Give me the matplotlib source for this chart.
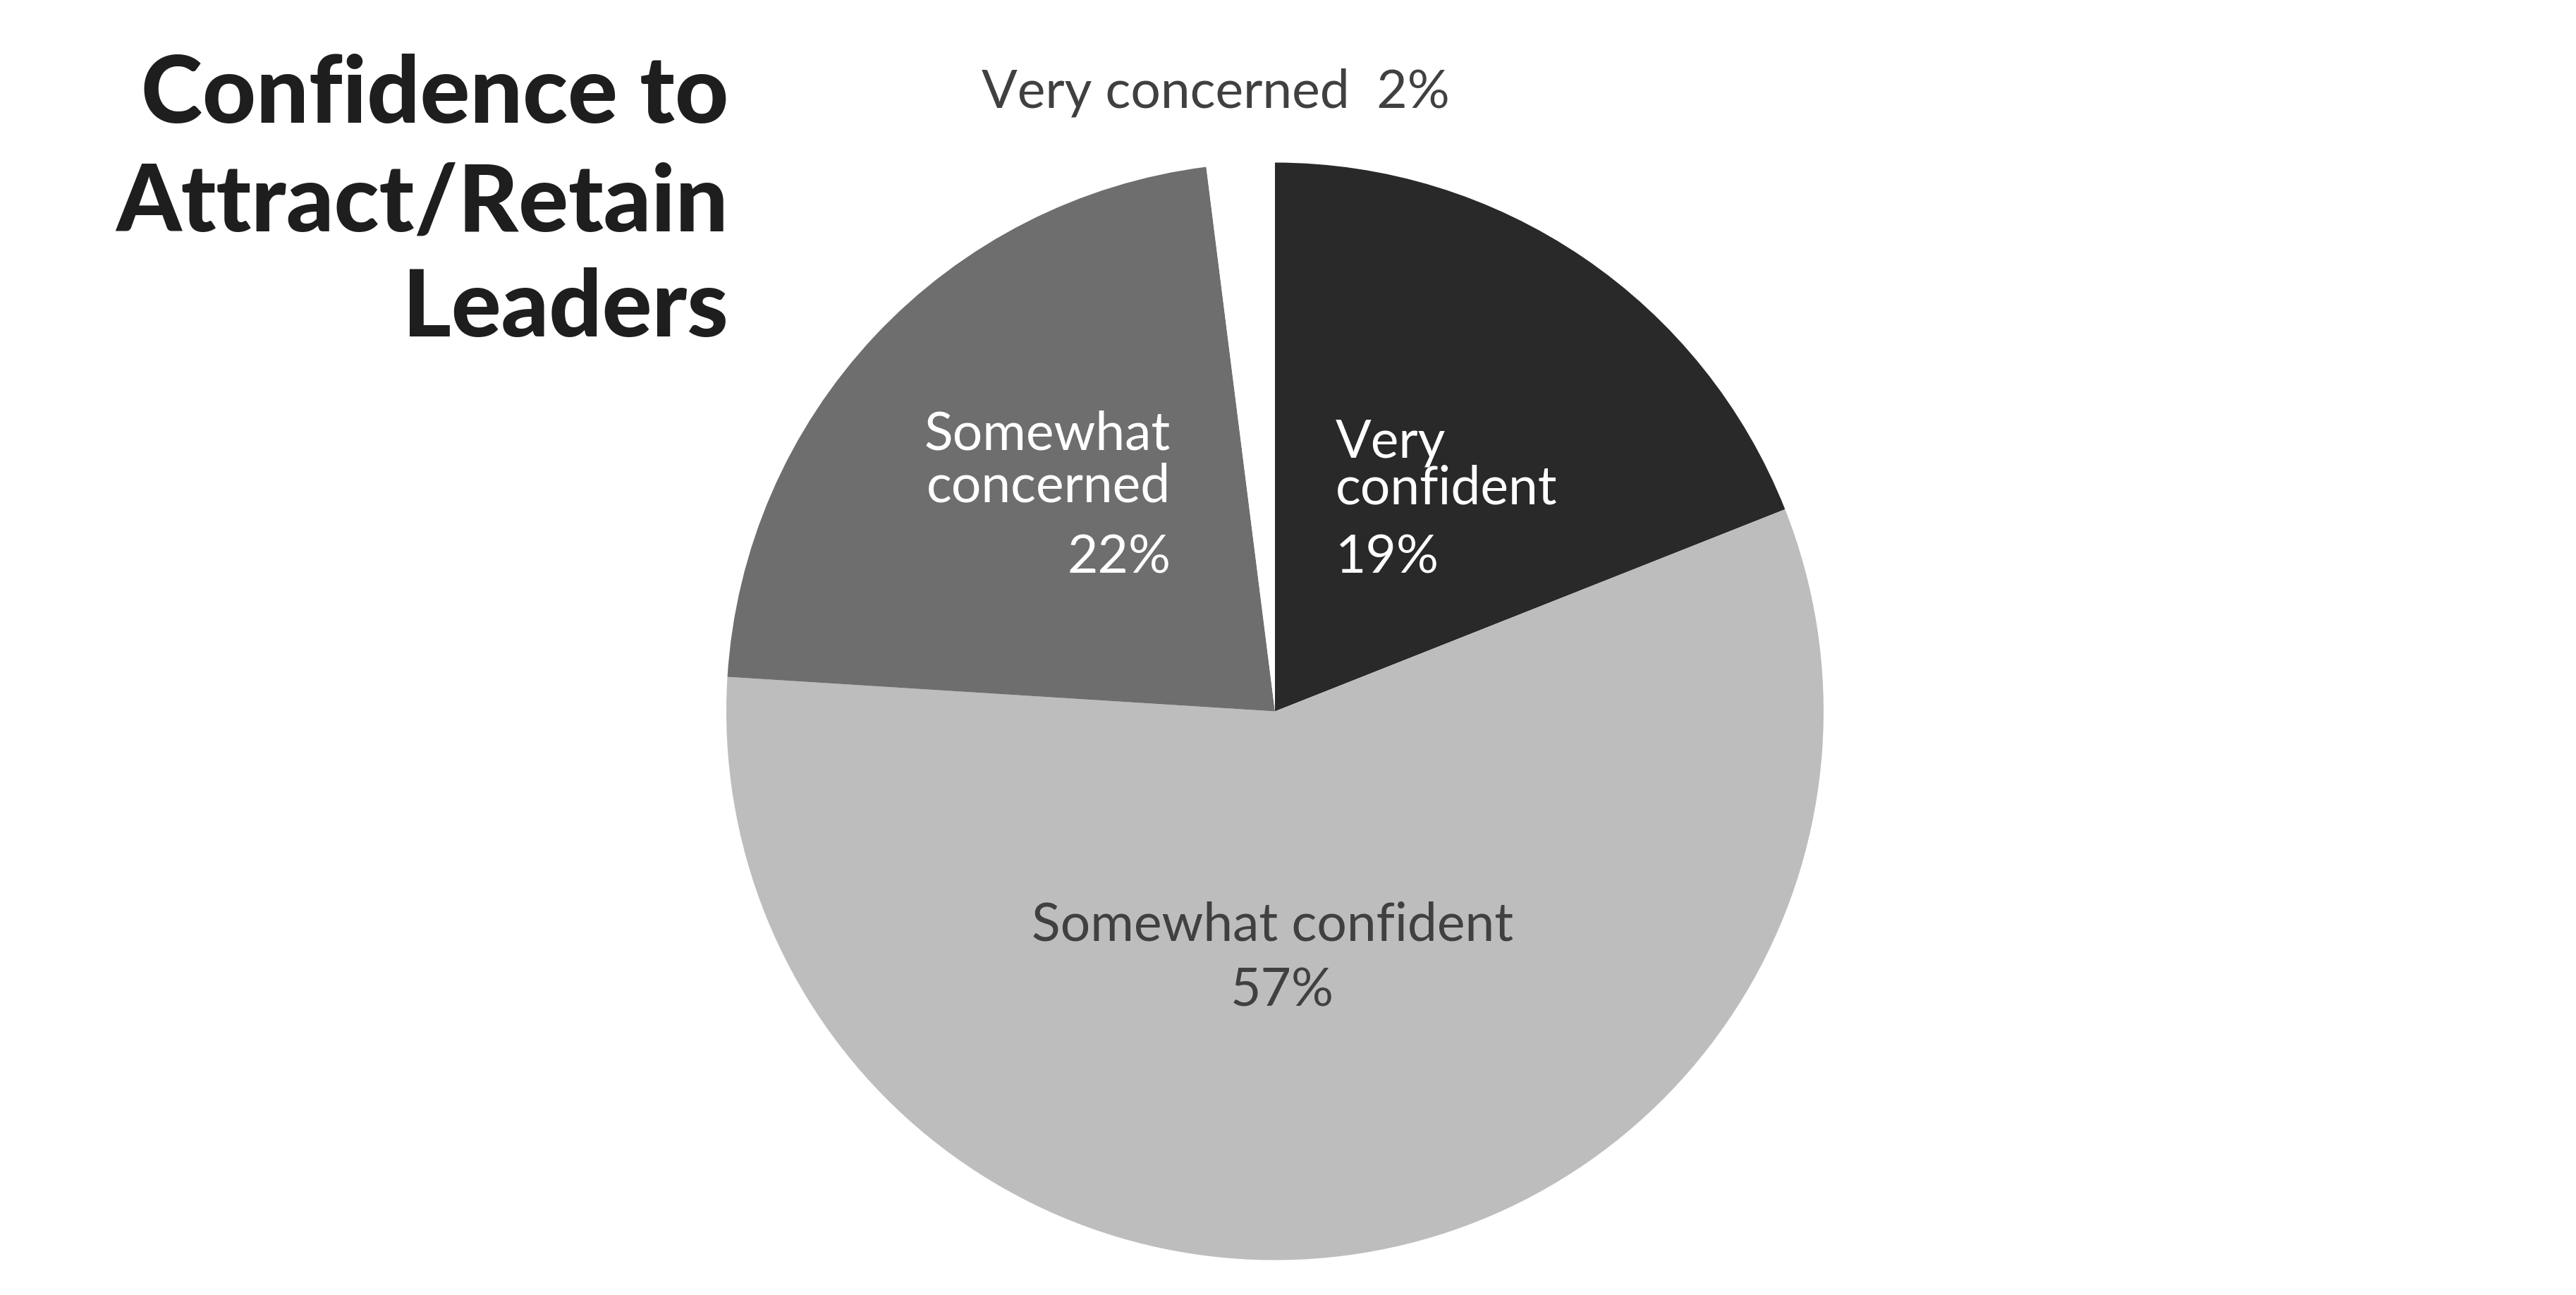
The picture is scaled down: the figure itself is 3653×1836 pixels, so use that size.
import matplotlib
matplotlib.use("Agg")
from matplotlib import pyplot as plt

# data
categories = ["Very confident", "Somewhat confident", "Somewhat concerned", "Very concerned"]
shares = [19, 57, 22, 2]
slice_colors = ["#292929", "#bdbdbd", "#6e6e6e", "#ffffff"]
title_lines = ["Confidence to", "Attract/Retain", "Leaders"]

W, H, DPI = 3653, 1836, 100
cx, cy, R = 1808, 1836 - 1008.5, 778  # pie centre / radius in pixels

fig = plt.figure(figsize=(W / DPI, H / DPI), dpi=DPI)
fig.patch.set_facecolor("white")
ax = fig.add_axes([0, 0, 1, 1])

ax.pie(shares, colors=slice_colors, startangle=90, counterclock=False,
       radius=1, center=(0, 0), frame=True,
       wedgeprops=dict(linewidth=0))
ax.set_xlim(-cx / R, (W - cx) / R)
ax.set_ylim(-cy / R, (H - cy) / R)
ax.set_aspect("equal")
ax.axis("off")

fam = ["Lato", "DejaVu Sans"]
fs = 54
dark = "#404040"

# very confident
ax.text(0.11, 0.49, "Very", color="white", fontsize=fs, family=fam, ha="left", va="center")
ax.text(0.11, 0.405, "confident", color="white", fontsize=fs, family=fam, ha="left", va="center")
ax.text(0.11, 0.28, f"{shares[0]}%", color="white", fontsize=fs, family=fam, ha="left", va="center")

# somewhat concerned
ax.text(-0.19, 0.505, "Somewhat", color="white", fontsize=fs, family=fam, ha="right", va="center")
ax.text(-0.19, 0.41, "concerned", color="white", fontsize=fs, family=fam, ha="right", va="center")
ax.text(-0.19, 0.28, f"{shares[2]}%", color="white", fontsize=fs, family=fam, ha="right", va="center")

# somewhat confident
ax.text(-0.005, -0.39, categories[1], color=dark, fontsize=fs, family=fam, ha="center", va="center")
ax.text(0.013, -0.51, f"{shares[1]}%", color=dark, fontsize=fs, family=fam, ha="center", va="center")

# very concerned (outside)
ax.text(-0.108, 1.127, f"{categories[3]}  {shares[3]}%", color=dark, fontsize=fs,
        family=fam, ha="center", va="center")

# title
baselines = [174, 327, 477]
for line, yb in zip(title_lines, baselines):
    fig.text(1033 / W, 1 - yb / H, line, ha="right", va="baseline",
             fontsize=95, fontweight="black", family=fam, color="#1e1e1e")

fig.savefig("out.png", dpi=DPI, facecolor="white")
